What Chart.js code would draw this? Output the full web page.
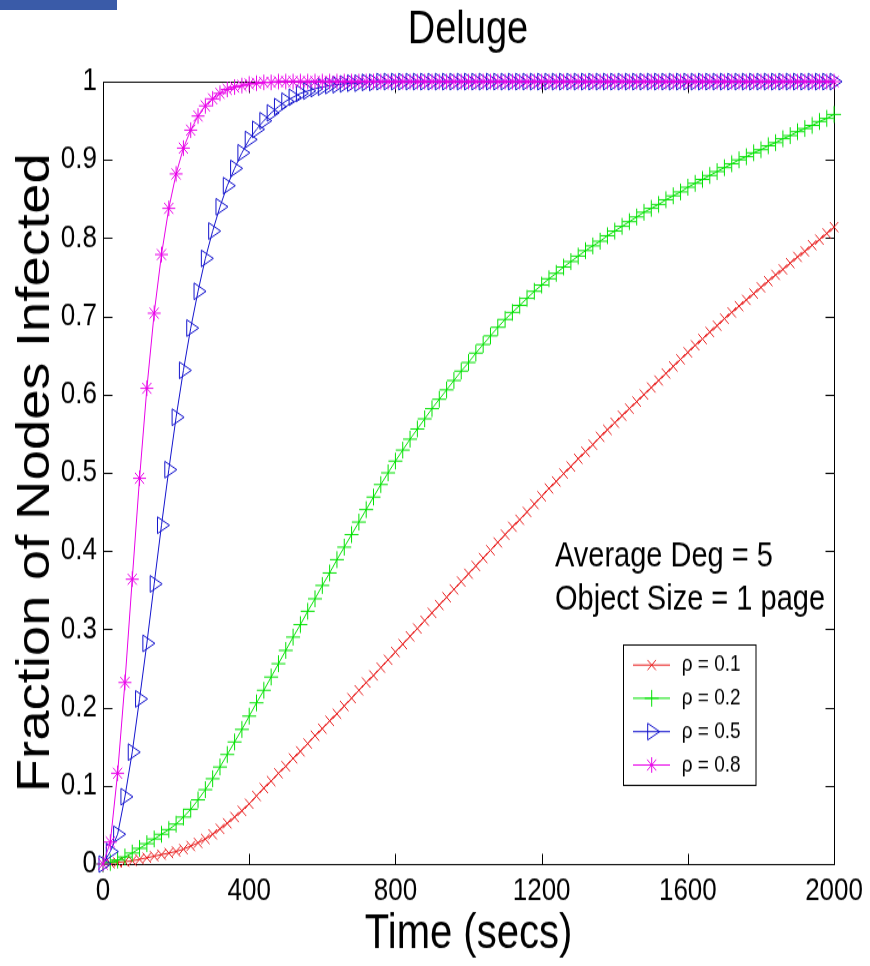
<!DOCTYPE html>
<html><head><meta charset="utf-8">
<script src="https://cdn.jsdelivr.net/npm/chart.js@4.4.1/dist/chart.umd.min.js"></script>
<style>
html,body{margin:0;padding:0;background:#fff;overflow:hidden;width:870px;height:966px}
#bar{position:absolute;left:0;top:0;width:117px;height:10px;background:#3a5ba8;z-index:2}
#wrap{position:absolute;left:0;top:0;width:870px;height:805px;transform:scale(1,1.2);transform-origin:0 0}
canvas{display:block}
</style></head><body>
<div id="wrap"><canvas id="c" width="870" height="805"></canvas></div>
<div id="bar"></div>
<script>
const times = [0,20,40,60,80,100,120,140,160,180,200,220,240,260,280,300,320,340,360,380,400,420,440,460,480,500,520,540,560,580,600,620,640,660,680,700,720,740,760,780,800,820,840,860,880,900,920,940,960,980,1000,1020,1040,1060,1080,1100,1120,1140,1160,1180,1200,1220,1240,1260,1280,1300,1320,1340,1360,1380,1400,1420,1440,1460,1480,1500,1520,1540,1560,1580,1600,1620,1640,1660,1680,1700,1720,1740,1760,1780,1800,1820,1840,1860,1880,1900,1920,1940,1960,1980,2000];

const rho01 = [0,0.001,0.002,0.003,0.004,0.006,0.008,0.01,0.012,0.014,0.016,0.019,0.023,0.027,0.032,0.038,0.045,0.052,0.06,0.068,0.077,0.087,0.097,0.106,0.116,0.125,0.135,0.144,0.154,0.164,0.173,0.183,0.192,0.202,0.212,0.222,0.232,0.241,0.251,0.261,0.271,0.281,0.291,0.301,0.311,0.321,0.331,0.341,0.351,0.361,0.371,0.381,0.391,0.401,0.411,0.421,0.431,0.44,0.45,0.46,0.47,0.48,0.489,0.499,0.508,0.518,0.527,0.536,0.546,0.555,0.564,0.573,0.582,0.591,0.6,0.609,0.618,0.627,0.636,0.645,0.654,0.663,0.671,0.68,0.688,0.697,0.705,0.713,0.721,0.729,0.737,0.745,0.753,0.76,0.768,0.776,0.783,0.791,0.798,0.806,0.814];

const rho02 = [0,0.002,0.005,0.009,0.014,0.02,0.026,0.032,0.038,0.044,0.051,0.06,0.07,0.082,0.095,0.109,0.124,0.14,0.156,0.172,0.189,0.206,0.222,0.239,0.256,0.273,0.29,0.306,0.323,0.339,0.356,0.372,0.389,0.405,0.421,0.437,0.453,0.469,0.485,0.5,0.515,0.529,0.543,0.556,0.569,0.582,0.594,0.606,0.618,0.63,0.641,0.653,0.664,0.675,0.686,0.696,0.705,0.714,0.723,0.732,0.74,0.748,0.755,0.763,0.77,0.777,0.784,0.79,0.796,0.803,0.809,0.815,0.821,0.827,0.833,0.838,0.843,0.849,0.854,0.859,0.865,0.87,0.875,0.88,0.885,0.89,0.895,0.9,0.904,0.909,0.913,0.918,0.922,0.927,0.931,0.936,0.94,0.944,0.949,0.953,0.958];

const rho05 = [0,0.016,0.038,0.086,0.143,0.211,0.282,0.358,0.433,0.504,0.571,0.631,0.685,0.732,0.774,0.809,0.84,0.867,0.889,0.909,0.926,0.939,0.95,0.96,0.968,0.975,0.98,0.985,0.988,0.991,0.993,0.995,0.996,0.997,0.998,0.998,0.999,0.999,1,1,1,1,1,1,1,1,1,1,1,1,1,1,1,1,1,1,1,1,1,1,1,1,1,1,1,1,1,1,1,1,1,1,1,1,1,1,1,1,1,1,1,1,1,1,1,1,1,1,1,1,1,1,1,1,1,1,1,1,1,1,1];

const rho08 = [0,0.028,0.116,0.232,0.364,0.493,0.608,0.704,0.779,0.838,0.882,0.915,0.938,0.956,0.969,0.978,0.985,0.99,0.993,0.995,0.997,0.998,0.999,0.999,1,1,1,1,1,1,1,1,1,1,1,1,1,1,1,1,1,1,1,1,1,1,1,1,1,1,1,1,1,1,1,1,1,1,1,1,1,1,1,1,1,1,1,1,1,1,1,1,1,1,1,1,1,1,1,1,1,1,1,1,1,1,1,1,1,1,1,1,1,1,1,1,1,1,1,1,1,1,1];

const seriesLabels = ['\u03c1 = 0.1','\u03c1 = 0.2','\u03c1 = 0.5','\u03c1 = 0.8'];
const xTickValues = [0,400,800,1200,1600,2000];
const xTickLabels = ['0','400','800','1200','1600','2000'];
const yTickValues = [0,0.1,0.2,0.3,0.4,0.5,0.6,0.7,0.8,0.9,1];
const yTickLabels = ['0','0.1','0.2','0.3','0.4','0.5','0.6','0.7','0.8','0.9','1'];
const chartTitle = 'Deluge';
const xTitle = 'Time (secs)';
const yTitle = 'Fraction of Nodes Infected';
const noteLines = ['Average Deg = 5','Object Size = 1 page'];

const FONT = '"Liberation Sans", Arial, Helvetica, sans-serif';
const NARROW = '"Liberation Sans Narrow", "Arial Narrow", "Liberation Sans", Arial, sans-serif';

const canvas = document.getElementById('c');
const mctx = canvas.getContext('2d');
mctx.font = '100px ' + NARROW;
const yTitleSize = Math.round(100 * 533 / mctx.measureText(yTitle).width * 10) / 10;

const styles = [
  {color:'rgb(232,28,28)', pointStyle:'crossRot', radius:6, rotation:0, order:4},
  {color:'rgb(0,225,0)', pointStyle:'cross', radius:7, rotation:0, order:3},
  {color:'rgb(20,20,205)', pointStyle:'triangle', radius:8, rotation:90, order:2},
  {color:'rgb(232,0,232)', pointStyle:'star', radius:6.5, rotation:0, order:1}
];
const values = [rho01, rho02, rho05, rho08];

const datasets = values.map((arr, i) => ({
  label: seriesLabels[i],
  data: times.map((t, j) => ({x: t, y: arr[j]})),
  borderColor: styles[i].color,
  backgroundColor: 'rgba(0,0,0,0)',
  pointBorderColor: styles[i].color,
  pointBackgroundColor: 'rgba(0,0,0,0)',
  borderWidth: 1,
  pointBorderWidth: 1,
  pointStyle: styles[i].pointStyle,
  pointRadius: styles[i].radius,
  pointRotation: styles[i].rotation,
  tension: 0,
  clip: false,
  order: styles[i].order
}));

const decorPlugin = {
  id: 'decor',
  beforeDatasetsDraw(chart) {
    const {ctx, chartArea: a, scales: {x, y}} = chart;
    ctx.save();
    ctx.strokeStyle = '#000';
    ctx.lineWidth = 1;
    const l = Math.round(a.left) + 0.5, r = Math.round(a.right) + 0.5;
    const t = Math.round(a.top) + 0.5, b = Math.round(a.bottom) + 0.5;
    ctx.beginPath();
    ctx.rect(l, t, r - l, b - t);
    const L = 9;
    xTickValues.forEach(v => {
      const px = Math.round(x.getPixelForValue(v)) + 0.5;
      ctx.moveTo(px, b); ctx.lineTo(px, b - L);
      ctx.moveTo(px, t); ctx.lineTo(px, t + L);
    });
    yTickValues.forEach(v => {
      const py = Math.round(y.getPixelForValue(v)) + 0.5;
      ctx.moveTo(l, py); ctx.lineTo(l + L, py);
      ctx.moveTo(r, py); ctx.lineTo(r - L, py);
    });
    ctx.stroke();
    ctx.restore();
  },
  afterDraw(chart) {
    const {ctx} = chart;
    ctx.save();
    ctx.fillStyle = '#000';
    ctx.font = '38px ' + FONT;
    ctx.textAlign = 'center';
    ctx.textBaseline = 'alphabetic';
    ctx.fillText(chartTitle, 468, 35.8);
    ctx.font = '29px ' + FONT;
    ctx.textAlign = 'left';
    ctx.fillText(noteLines[0], 555, 472.2);
    ctx.fillText(noteLines[1], 555, 508.3);
    const bx = 623.5, by = 537.5, bw = 132.5, bh = 117;
    ctx.fillStyle = '#fff';
    ctx.fillRect(bx, by, bw, bh);
    ctx.strokeStyle = '#000';
    ctx.lineWidth = 1;
    ctx.strokeRect(bx, by, bw, bh);
    const rows = [554.2, 581.9, 609.7, 637.5];
    ctx.font = '19px ' + FONT;
    ctx.textBaseline = 'middle';
    styles.forEach((s, i) => {
      const yy = rows[i];
      ctx.strokeStyle = s.color;
      ctx.fillStyle = 'rgba(0,0,0,0)';
      ctx.lineWidth = 1;
      ctx.beginPath();
      ctx.moveTo(633, yy); ctx.lineTo(670, yy);
      ctx.stroke();
      if (Chart.helpers && Chart.helpers.drawPoint) {
        Chart.helpers.drawPoint(ctx, {pointStyle: s.pointStyle, rotation: s.rotation, radius: s.radius, borderWidth: 1}, 651.7, yy);
      }
      ctx.fillStyle = '#000';
      ctx.fillText(seriesLabels[i], 681.7, yy);
    });
    ctx.restore();
  }
};

new Chart(canvas, {
  type: 'line',
  data: {datasets},
  options: {
    responsive: false,
    animation: false,
    events: [],
    layout: {padding: {top: 68, right: 27, left: 0, bottom: 0}},
    plugins: {legend: {display: false}, title: {display: false}, tooltip: {enabled: false}},
    scales: {
      x: {
        type: 'linear', min: 0, max: 2000,
        afterFit(s) { s.height = 85; },
        afterBuildTicks(s) { s.ticks = xTickValues.map(v => ({value: v})); },
        ticks: {
          callback: (v) => xTickLabels[xTickValues.indexOf(v)],
          font: {family: FONT, size: 26}, color: '#000', padding: 7, maxRotation: 0, autoSkip: false
        },
        grid: {display: false, drawTicks: false},
        border: {display: false},
        title: {display: true, text: xTitle, color: '#000', font: {family: FONT, size: 40, lineHeight: 1}, padding: {top: 0, bottom: 6}}
      },
      y: {
        type: 'linear', min: 0, max: 1,
        afterFit(s) { s.width = 103; },
        afterBuildTicks(s) { s.ticks = yTickValues.map(v => ({value: v})); },
        ticks: {
          callback: (v) => { const i = yTickValues.findIndex(t => Math.abs(t - v) < 1e-9); return i >= 0 ? yTickLabels[i] : ''; },
          font: {family: FONT, size: 26}, color: '#000', padding: 6, autoSkip: false
        },
        grid: {display: false, drawTicks: false},
        border: {display: false},
        title: {display: true, text: yTitle, color: '#000', font: {family: NARROW, size: yTitleSize, lineHeight: 1}, padding: {top: 36 - yTitleSize / 2, bottom: 0}}
      }
    }
  },
  plugins: [decorPlugin]
});
</script>
</body></html>
